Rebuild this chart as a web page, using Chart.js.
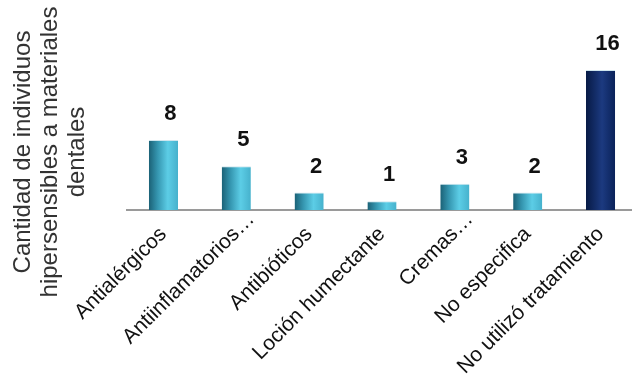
<!DOCTYPE html>
<html>
<head>
<meta charset="utf-8">
<script src="https://cdn.jsdelivr.net/npm/chart.js@4.4.0/dist/chart.umd.min.js"></script>
<style>
    html, body { margin: 0; padding: 0; background: #fff; }
    #wrap { width: 632px; height: 379px; overflow: hidden; }
    #box { width: 637px; height: 379px; }
</style>
</head>
<body>
<div id="wrap"><div id="box"><canvas id="treatChart"></canvas></div></div>
<script>
// data
const categories = [
    'Antialérgicos',
    'Antiinflamatorios…',
    'Antibióticos',
    'Loción humectante',
    'Cremas…',
    'No especifica',
    'No utilizó tratamiento'
];
const counts = [8, 5, 2, 1, 3, 2, 16];
const yTitleLines = ['Cantidad de individuos', 'hipersensibles a materiales', 'dentales'];

const BAR_FRAC = 0.4;
const ELLIPSIS = '…';

// cylinder-like horizontal gradient for each bar
function barGradient(context) {
    const chart = context.chart;
    const xs = chart.scales.x;
    const i = context.dataIndex;
    const last = i === counts.length - 1;
    const fallback = last ? '#12306e' : '#4bb8d3';
    if (!xs || i === undefined) return fallback;
    const step = xs.getPixelForValue(1) - xs.getPixelForValue(0);
    const cx = xs.getPixelForValue(i);
    const half = step * BAR_FRAC / 2;
    if (!isFinite(cx) || !isFinite(half) || half <= 0) return fallback;
    const g = chart.ctx.createLinearGradient(cx - half, 0, cx + half, 0);
    if (last) {
        g.addColorStop(0, '#071a45');
        g.addColorStop(0.55, '#1c3a80');
        g.addColorStop(1, '#0a2259');
    } else {
        g.addColorStop(0, '#1b6176');
        g.addColorStop(0.3, '#3596b0');
        g.addColorStop(0.65, '#5ccde6');
        g.addColorStop(1, '#46b1cc');
    }
    return g;
}

// numbers on top of the bars
const valueLabels = {
    id: 'valueLabels',
    afterDatasetsDraw(chart) {
        const ctx = chart.ctx;
        const meta = chart.getDatasetMeta(0);
        ctx.save();
        ctx.font = 'bold 22px "Liberation Sans", Arial, sans-serif';
        ctx.fillStyle = '#111';
        ctx.textAlign = 'center';
        ctx.textBaseline = 'alphabetic';
        meta.data.forEach((bar, i) => {
            ctx.fillText(String(counts[i]), bar.x + 7, bar.y - 20);
        });
        ctx.restore();
    }
};

// truncated labels: the ellipsis hangs past the tick, like the original
const ellipsisTail = {
    id: 'ellipsisTail',
    afterDraw(chart) {
        const xs = chart.scales.x;
        const items = xs.getLabelItems();
        const ctx = chart.ctx;
        items.forEach((item, i) => {
            if (!categories[i].endsWith(ELLIPSIS)) return;
            const o = item.options;
            ctx.save();
            ctx.translate(o.translation[0], o.translation[1]);
            ctx.rotate(o.rotation);
            ctx.font = item.font.string;
            ctx.fillStyle = o.color;
            ctx.textAlign = 'left';
            ctx.textBaseline = o.textBaseline;
            ctx.fillText(ELLIPSIS, 0, item.textOffset);
            ctx.restore();
        });
    }
};

// three-line rotated y axis title
const yTitle = {
    id: 'yTitle',
    afterDraw(chart) {
        const ctx = chart.ctx;
        const area = chart.chartArea;
        ctx.save();
        ctx.font = '24px "Liberation Sans", Arial, sans-serif';
        ctx.fillStyle = '#333';
        ctx.textAlign = 'center';
        ctx.textBaseline = 'middle';
        ctx.translate(0, area.bottom - 58);
        ctx.rotate(-Math.PI / 2);
        yTitleLines.forEach((line, k) => {
            ctx.fillText(line, 0, 23 + k * 27);
        });
        ctx.restore();
    }
};

document.addEventListener('DOMContentLoaded', () => {
    const ctx = document.getElementById('treatChart').getContext('2d');
    new Chart(ctx, {
        type: 'bar',
        data: {
            labels: categories,
            datasets: [{
                data: counts,
                backgroundColor: barGradient,
                borderColor: '#cfe6ee',
                borderWidth: { top: 1, left: 0, right: 0, bottom: 0 },
                borderSkipped: 'bottom',
                barPercentage: 0.4,
                categoryPercentage: 1.0
            }]
        },
        options: {
            responsive: true,
            maintainAspectRatio: false,
            animation: false,
            layout: { padding: { top: 35, right: 0, left: 0, bottom: 0 } },
            plugins: {
                legend: { display: false },
                tooltip: { enabled: false }
            },
            scales: {
                x: {
                    grid: { display: false },
                    border: { color: '#9a9a9a', width: 2 },
                    ticks: {
                        autoSkip: false,
                        maxRotation: 45,
                        minRotation: 45,
                        padding: 4,
                        color: '#111',
                        font: { size: 21, family: '"Liberation Sans", Arial, sans-serif' },
                        callback: function(value) {
                            const lbl = this.getLabelForValue(value);
                            return lbl.endsWith(ELLIPSIS) ? lbl.slice(0, -1) : lbl;
                        }
                    },
                    afterFit(scale) {
                        scale.height = 169;
                        scale.paddingLeft = 0;
                        scale.paddingRight = 0;
                    }
                },
                y: {
                    min: 0,
                    max: 20,
                    grid: { display: false },
                    border: { display: false },
                    ticks: { display: false },
                    afterFit(scale) {
                        scale.width = 127;
                    }
                }
            }
        },
        plugins: [valueLabels, ellipsisTail, yTitle]
    });
});
</script>
</body>
</html>
